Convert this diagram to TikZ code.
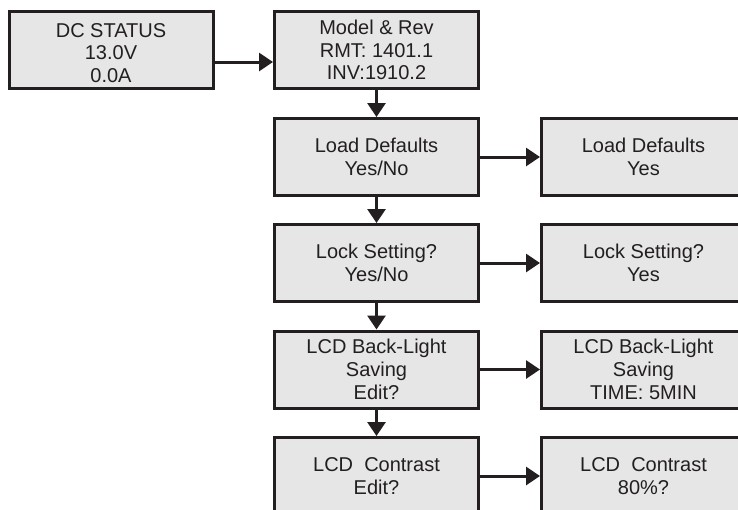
\documentclass[tikz,border=0pt]{standalone}
\usepackage{fontspec}
\setmainfont{Liberation Sans}
\usetikzlibrary{arrows.meta}
\definecolor{boxgray}{HTML}{E6E6E6}
\definecolor{inkdark}{HTML}{231F20}
\begin{document}
\begin{tikzpicture}[x=1pt, y=-1pt, >={Triangle[length=14pt,width=18pt]},
	screen/.style={draw=inkdark, fill=boxgray, line width=3pt, minimum width=204pt,
		minimum height=77pt, align=center, inner sep=0pt, text=inkdark,
		font=\fontsize{20}{22.75}\selectfont},
	flow/.style={->, draw=inkdark, line width=3pt}]
	% 1. 画布大小（右侧与底部被裁切）
	\useasboundingbox (0,0) rectangle (738,509);
	\clip (0,0) rectangle (738,509);
	
	% 2. 左列与中列的菜单框
	\node[screen] (dc) at (111,50) {\rule{0pt}{20pt}DC STATUS\\13.0V\\0.0A};
	\node[screen] (model) at (376.5,50) {Model \& Rev\\RMT: 1401.1\\INV:1910.2};
	\node[screen] (load) at (376.5,157) {Load Defaults\\Yes/No};
	\node[screen] (lock) at (376.5,263) {Lock Setting?\\Yes/No};
	\node[screen] (light) at (376.5,369.5) {LCD Back-Light\\Saving\\Edit?};
	\node[screen] (contrast) at (376.5,476) {LCD\ \ Contrast\\Edit?};
	
	% 3. 右列的设定框
	\node[screen] (loadyes) at (643.5,157) {Load Defaults\\Yes};
	\node[screen] (lockyes) at (643.5,263) {Lock Setting?\\Yes};
	\node[screen] (lighttime) at (643.5,369.5) {LCD Back-Light\\Saving\\TIME: 5MIN};
	\node[screen] (contrastval) at (643.5,476) {LCD\ \ Contrast\\80\%?};
	
	% 4. 箭头
	\draw[flow] ([yshift=-12pt]dc.east) -- ([yshift=-12pt]model.west);
	\draw[flow] (model) -- (load);
	\draw[flow] (load) -- (lock);
	\draw[flow] (lock) -- (light);
	\draw[flow] (light) -- (contrast);
	\draw[flow] (load) -- (loadyes);
	\draw[flow] (lock) -- (lockyes);
	\draw[flow] (light) -- (lighttime);
	\draw[flow] (contrast) -- (contrastval);
	
\end{tikzpicture}
\end{document}
